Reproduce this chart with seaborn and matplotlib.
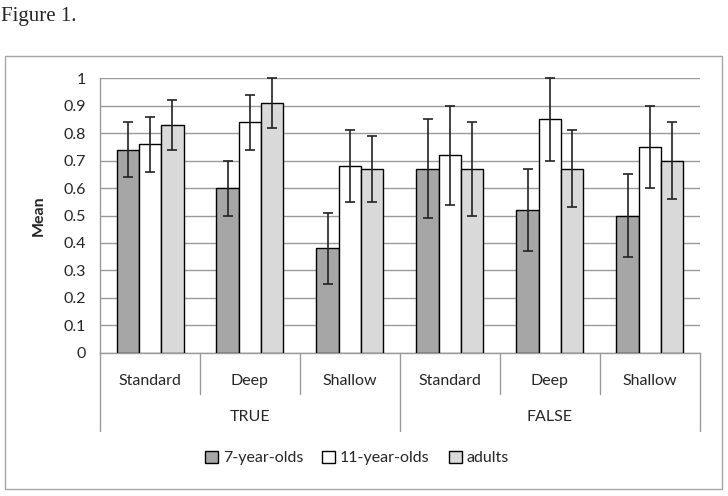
import matplotlib
matplotlib.use("Agg")
import matplotlib.pyplot as plt
import matplotlib.transforms as mtransforms
from matplotlib.patches import Rectangle
from matplotlib.ticker import FuncFormatter
import seaborn as sns
import pandas as pd

# data
conditions = ["TRUE", "FALSE"]
depths = ["Standard", "Deep", "Shallow"]
groups = ["7-year-olds", "11-year-olds", "adults"]

# means per group, order: TRUE Standard/Deep/Shallow, FALSE Standard/Deep/Shallow
mean_7 = [0.74, 0.60, 0.38, 0.67, 0.52, 0.50]
mean_11 = [0.76, 0.84, 0.68, 0.72, 0.85, 0.75]
mean_ad = [0.83, 0.91, 0.67, 0.67, 0.67, 0.70]

# error bar half widths
err_7 = [0.10, 0.10, 0.13, 0.18, 0.15, 0.15]
err_11 = [0.10, 0.10, 0.13, 0.18, 0.15, 0.15]
err_ad = [0.09, 0.09, 0.12, 0.17, 0.14, 0.14]

colors = ["#a6a6a6", "#ffffff", "#d9d9d9"]

sns.set_style("white")
plt.rcParams['font.family'] = ['Lato', 'DejaVu Sans']

cats = [c + "-" + d for c in conditions for d in depths]
rows = []
for g, ms, es in zip(groups, [mean_7, mean_11, mean_ad], [err_7, err_11, err_ad]):
    for cat, m, e in zip(cats, ms, es):
        rows.append({'cat': cat, 'group': g, 'mean': m, 'err': e})
df = pd.DataFrame(rows)

fig = plt.figure(figsize=(7.28, 4.96), dpi=100)
ax = fig.add_axes([100/728, 1 - 352.7/496, 600/728, 274.4/496])

sns.barplot(data=df, x='cat', y='mean', hue='group', order=cats, hue_order=groups,
            palette=colors, edgecolor='black', linewidth=1.0, width=0.67,
            errorbar=None, legend=True, ax=ax, zorder=3)

# error bars on top of the bars
for cont, g in zip(ax.containers, groups):
    sub = df[df['group'] == g].set_index('cat').loc[cats]
    xs = [b.get_x() + b.get_width() / 2 for b in cont]
    ax.errorbar(xs, sub['mean'], yerr=sub['err'], fmt='none', ecolor='#222222',
                elinewidth=1.2, capsize=3.5, capthick=1.2, zorder=4, clip_on=False)

ax.set_ylim(0, 1)
ax.set_xlim(-0.5, 5.5)
ax.set_yticks([i / 10 for i in range(11)])
ax.yaxis.set_major_formatter(FuncFormatter(lambda v, p: "%g" % round(v, 1)))
ax.yaxis.grid(True, color='#9a9a9a', linewidth=1.0, zorder=0)
ax.set_axisbelow(True)
ax.tick_params(axis='y', length=6, color='#9a9a9a', labelsize=11.5, pad=4)
ax.tick_params(axis='x', length=0, labelsize=11.5, pad=15)
ax.set_xticks(range(6))
ax.set_xticklabels(depths * 2)
ax.set_xlabel("")
ax.set_ylabel("Mean", fontsize=11.5, fontweight='bold', labelpad=13)

for s in ['top', 'right']:
    ax.spines[s].set_visible(False)
for s in ['left', 'bottom']:
    ax.spines[s].set_color('#9a9a9a')
    ax.spines[s].set_linewidth(1.0)

# category separators and outer labels below the axis
trans = mtransforms.blended_transform_factory(ax.transData, ax.transAxes)
for i in range(7):
    x = i - 0.5
    low = -0.285 if i % 3 == 0 else -0.15
    ax.plot([x, x], [0, low], transform=trans, color='#9a9a9a', lw=1.0, clip_on=False)
for j, c in enumerate(conditions):
    ax.text(j * 3 + 1, -0.235, c, transform=trans, ha='center', va='center', fontsize=11.5)

ax.get_legend().remove()
handles = [Rectangle((0, 0), 1, 1, facecolor=c, edgecolor='black', lw=1.0) for c in colors]
fig.legend(handles, groups, loc='center', bbox_to_anchor=(357/728, 1 - 458/496), ncol=3,
           frameon=False, fontsize=11.5, handlelength=0.8, handleheight=0.8,
           handletextpad=0.3, columnspacing=1.2)

# outer chart frame and caption
fig.patches.append(Rectangle((5/728, 1 - 489/496), 717/728, 433/496, transform=fig.transFigure,
                             fill=False, edgecolor='#a6a6a6', lw=1.0))
fig.text(1/728, 1 - 16/496, "Figure 1.", family='Liberation Serif', fontsize=15,
         ha='left', va='center')

fig.savefig("out.png", dpi=100)
